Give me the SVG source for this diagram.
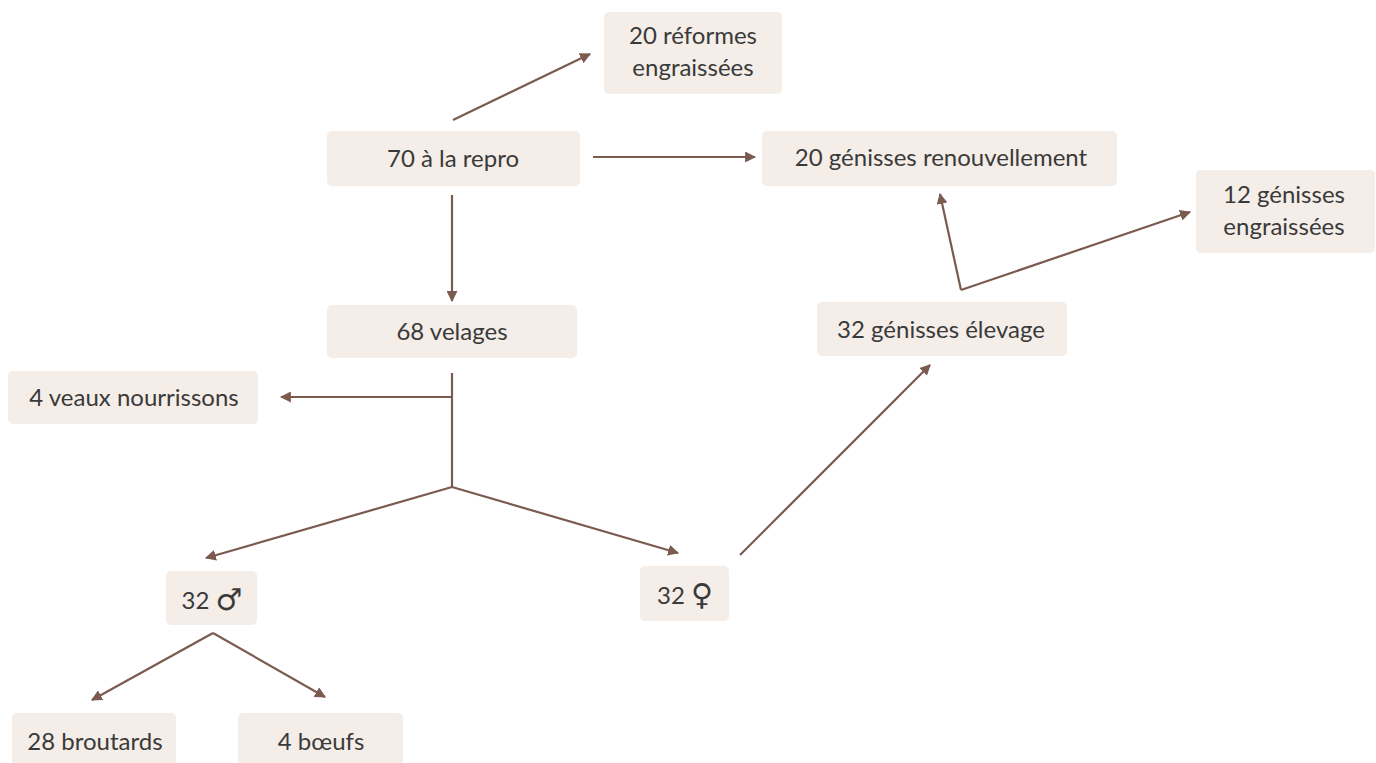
<svg xmlns="http://www.w3.org/2000/svg" width="1376" height="763" viewBox="0 0 1376 763">
<style>
.box{fill:#f4ede8}
.t{font-family:Lato,"Noto Sans",sans-serif;font-size:24px;fill:#3a3a3a;text-anchor:middle;dominant-baseline:central}
.sym{font-family:"DejaVu Sans",sans-serif;font-size:30px}
.c{stroke:#7b5a4f;stroke-width:2.2;fill:none}
.ca{stroke:#7b5a4f;stroke-width:2.2;fill:none;marker-end:url(#ah)}
</style>
<defs>
<marker id="ah" viewBox="0 0 10 10" refX="9" refY="5" markerWidth="5" markerHeight="5" orient="auto" markerUnits="strokeWidth">
<path d="M0,0 L10,5 L0,10 z" fill="#7b5a4f"/>
</marker>
</defs>
<rect width="1376" height="763" fill="#ffffff"/>
<g id="connectors">
<line class="ca" x1="453" y1="120" x2="590" y2="54"/>
<line class="ca" x1="593" y1="157" x2="755" y2="157"/>
<line class="ca" x1="452" y1="195" x2="452" y2="301"/>
<line class="c" x1="452" y1="373" x2="452" y2="487"/>
<line class="ca" x1="452" y1="397" x2="281" y2="397"/>
<line class="ca" x1="452" y1="487" x2="206" y2="558"/>
<line class="ca" x1="452" y1="487" x2="678" y2="553"/>
<line class="ca" x1="740" y1="555" x2="930" y2="365"/>
<line class="ca" x1="961" y1="290" x2="940" y2="194"/>
<line class="ca" x1="961" y1="290" x2="1190" y2="212"/>
<line class="ca" x1="213" y1="633" x2="92" y2="700"/>
<line class="ca" x1="213" y1="633" x2="325" y2="697"/>
</g>
<g id="n-reformes"><rect class="box" x="604" y="12" width="178" height="82" rx="5"/><text class="t" x="693" y="34">20 réformes</text><text class="t" x="693" y="66">engraissées</text></g>
<g id="n-repro"><rect class="box" x="327" y="131" width="253" height="55" rx="5"/><text class="t" x="453" y="157">70 à la repro</text></g>
<g id="n-renouv"><rect class="box" x="762" y="131" width="355" height="55" rx="5"/><text class="t" x="941" y="156">20 génisses renouvellement</text></g>
<g id="n-gen-engr"><rect class="box" x="1196" y="170" width="179" height="83" rx="5"/><text class="t" x="1284" y="193">12 génisses</text><text class="t" x="1284" y="225">engraissées</text></g>
<g id="n-velages"><rect class="box" x="327" y="305" width="250" height="53" rx="5"/><text class="t" x="452" y="330">68 velages</text></g>
<g id="n-elevage"><rect class="box" x="817" y="302" width="250" height="54" rx="5"/><text class="t" x="941" y="328">32 génisses élevage</text></g>
<g id="n-veaux"><rect class="box" x="8" y="371" width="250" height="53" rx="5"/><text class="t" x="134" y="396">4 veaux nourrissons</text></g>
<g id="n-males"><rect class="box" x="166" y="571" width="91" height="54" rx="5"/><text class="t" x="212" y="599">32 <tspan class="sym">♂</tspan></text></g>
<g id="n-femelles"><rect class="box" x="640" y="566" width="89" height="55" rx="5"/><text class="t" x="685" y="594">32 <tspan class="sym">♀</tspan></text></g>
<g id="n-broutards"><rect class="box" x="12" y="713" width="164" height="60" rx="5"/><text class="t" x="95" y="740">28 broutards</text></g>
<g id="n-boeufs"><rect class="box" x="238" y="713" width="165" height="60" rx="5"/><text class="t" x="321" y="740">4 bœufs</text></g>
</svg>
